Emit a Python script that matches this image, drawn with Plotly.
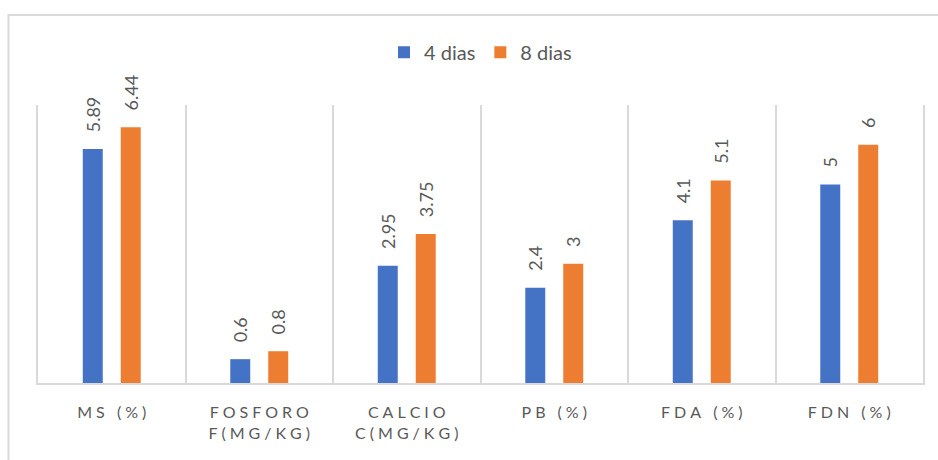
import plotly.graph_objects as go

categories = ["MS (%)", "FOSFORO<br>F(MG/KG)", "CALCIO<br>C(MG/KG)", "PB (%)", "FDA (%)", "FDN (%)"]
series_names = ["4 dias", "8 dias"]
values_4 = [5.89, 0.6, 2.95, 2.4, 4.1, 5.0]
values_8 = [6.44, 0.8, 3.75, 3.0, 5.1, 6.0]
colors = ["#4472C4", "#ED7D31"]

FONT = "Lato, Open Sans, sans-serif"
GRAY = "#595959"
LINE = "#D9D9D9"


def spaced(label):
    # emulate Excel's expanded character spacing on category labels
    return "<br>".join("\u2009\u2009".join(list(part)) for part in label.split("<br>"))


tick_text = [spaced(c) for c in categories]

W, H = 938, 460
ml, mr, mt, mb = 38, 15, 105, 77
pw, ph = W - ml - mr, H - mt - mb

fig = go.Figure()
for name, vals, col in zip(series_names, [values_4, values_8], colors):
    fig.add_trace(go.Bar(
        x=tick_text, y=vals, name=name, marker_color=col,
        marker_line_width=0,
        text=["\u00a0\u00a0\u00a0" + f"{v:g}" for v in vals],
        textposition="outside", textangle=-90,
        textfont=dict(family=FONT, size=18, color=GRAY),
        constraintext="none", cliponaxis=False,
    ))

fig.update_layout(
    width=W, height=H,
    margin=dict(l=ml, r=mr, t=mt, b=mb),
    paper_bgcolor="white", plot_bgcolor="white",
    barmode="group", bargap=0.485, bargroupgap=0.474,
    font=dict(family=FONT, color=GRAY),
    legend=dict(orientation="h", x=0.5, xanchor="center", y=1.19, yanchor="middle",
                font=dict(family=FONT, size=20, color=GRAY), traceorder="normal"),
    xaxis=dict(showline=True, linecolor=LINE, linewidth=1.5,
               showgrid=True, gridcolor=LINE, gridwidth=1.5, tickson="boundaries",
               ticks="", tickfont=dict(family=FONT, size=16, color=GRAY),
               ticklabelstandoff=14),
    yaxis=dict(range=[0, 7], showgrid=False, zeroline=False, showticklabels=False,
               showline=True, mirror=True, linecolor=LINE, linewidth=1.5, ticks=""),
    shapes=[dict(type="rect", xref="paper", yref="paper",
                 x0=(8.5 - ml) / pw, x1=(W + 20 - ml) / pw,
                 y0=-(mb + 20) / ph, y1=(H - mb - 15) / ph,
                 line=dict(color=LINE, width=2), fillcolor="rgba(0,0,0,0)", layer="below")],
)

fig.write_html("out.html")
